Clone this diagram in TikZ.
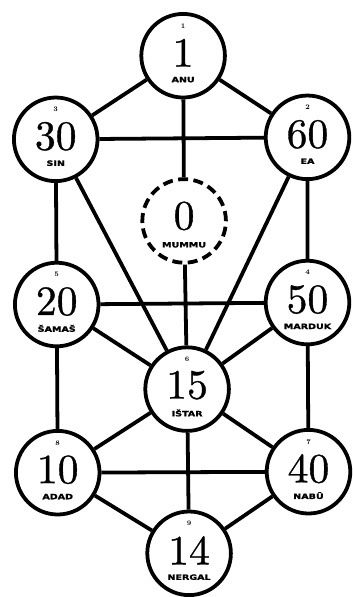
\documentclass[tikz,border=0pt]{standalone}
\usepackage{fontspec}
\usepackage{tikz}
\usetikzlibrary{calc}
\newfontfamily\tagfont[FakeStretch=1.3, FakeBold=1.5]{DejaVu Sans}
\newfontfamily\numfont{lmroman10-regular}[Extension=.otf, FakeBold=0.8]

\tikzset{
  god/.style={circle, draw=black, fill=white, line width=3.8bp, minimum size=84bp, inner sep=0pt},
  ghost/.style={god, dash pattern=on 10bp off 5.5bp},
  link/.style={line width=3.8bp},
  godnum/.style={font=\numfont\fontsize{42}{42}\selectfont, inner sep=0pt},
  godrank/.style={font=\bfseries\fontsize{7}{7}\selectfont, inner sep=0pt},
  godtag/.style={font=\tagfont\bfseries\fontsize{7.4}{7.4}\selectfont, inner sep=0pt},
}

\begin{document}
\begin{tikzpicture}[x=1bp, y=-1bp]

%% Background
\fill[white] (0,0) rectangle (350,597);

%% ── Circles ─────────────────────────────────────────────────────────────
\node[god]   (anu)    at (184,56)  {};
\node[god]   (sin)    at (56,140)  {};
\node[god]   (ea)     at (309,138) {};
\node[ghost] (mummu)  at (185,222) {};
\node[god]   (samas)  at (57,306)  {};
\node[god]   (marduk) at (309,304) {};
\node[god]   (istar)  at (188,391) {};
\node[god]   (adad)   at (58,475)  {};
\node[god]   (nabu)   at (310,474) {};
\node[god]   (nergal) at (190,556) {};

%% ── Links ───────────────────────────────────────────────────────────────
\draw[link] (anu) -- (sin)  (anu) -- (ea)  (anu) -- (mummu)  (sin) -- (ea);
\draw[link] (sin) -- (samas)  (sin) -- (istar)  (ea) -- (marduk)  (ea) -- (istar);
\draw[link] (mummu) -- (istar)  (samas) -- (marduk)  (samas) -- (istar)  (marduk) -- (istar);
\draw[link] (samas) -- (adad)  (marduk) -- (nabu)  (istar) -- (adad)  (istar) -- (nabu);
\draw[link] (istar) -- (nergal)  (adad) -- (nabu)  (adad) -- (nergal)  (nabu) -- (nergal);

%% ── ANU ─────────────────────────────────────────────────────────────────
\node[godrank] (anu-r) at ($(anu)+(0,-30)$) {1};
\node[godnum]  (anu-n) at ($(anu)+(0,-3)$)  {1};
\node[godtag]  (anu-t) at ($(anu)+(0,24)$)  {ANU};

%% ── SIN ─────────────────────────────────────────────────────────────────
\node[godrank] (sin-r) at ($(sin)+(0,-30)$) {3};
\node[godnum]  (sin-n) at ($(sin)+(0,-3)$)  {30};
\node[godtag]  (sin-t) at ($(sin)+(0,24)$)  {SIN};

%% ── EA ──────────────────────────────────────────────────────────────────
\node[godrank] (ea-r) at ($(ea)+(0,-30)$) {2};
\node[godnum]  (ea-n) at ($(ea)+(0,-3)$)  {60};
\node[godtag]  (ea-t) at ($(ea)+(0,24)$)  {EA};

%% ── MUMMU ───────────────────────────────────────────────────────────────
\node[godnum]  (mummu-n) at ($(mummu)+(0,-5)$) {0};
\node[godtag]  (mummu-t) at ($(mummu)+(0,24)$) {MUMMU};

%% ── ŠAMAŠ ───────────────────────────────────────────────────────────────
\node[godrank] (samas-r) at ($(samas)+(0,-30)$) {5};
\node[godnum]  (samas-n) at ($(samas)+(0,-3)$)  {20};
\node[godtag]  (samas-t) at ($(samas)+(0,24)$)  {ŠAMAŠ};

%% ── MARDUK ──────────────────────────────────────────────────────────────
\node[godrank] (marduk-r) at ($(marduk)+(0,-30)$) {4};
\node[godnum]  (marduk-n) at ($(marduk)+(0,-3)$)  {50};
\node[godtag]  (marduk-t) at ($(marduk)+(0,24)$)  {MARDUK};

%% ── IŠTAR ───────────────────────────────────────────────────────────────
\node[godrank] (istar-r) at ($(istar)+(0,-30)$) {6};
\node[godnum]  (istar-n) at ($(istar)+(0,-4)$)  {15};
\node[godtag]  (istar-t) at ($(istar)+(0,24)$)  {IŠTAR};

%% ── ADAD ────────────────────────────────────────────────────────────────
\node[godrank] (adad-r) at ($(adad)+(0,-30)$) {8};
\node[godnum]  (adad-n) at ($(adad)+(0,-3)$)  {10};
\node[godtag]  (adad-t) at ($(adad)+(0,24)$)  {ADAD};

%% ── NABÛ ────────────────────────────────────────────────────────────────
\node[godrank] (nabu-r) at ($(nabu)+(0,-30)$) {7};
\node[godnum]  (nabu-n) at ($(nabu)+(0,-3)$)  {40};
\node[godtag]  (nabu-t) at ($(nabu)+(0,24)$)  {NABÛ};

%% ── NERGAL ──────────────────────────────────────────────────────────────
\node[godrank] (nergal-r) at ($(nergal)+(0,-30)$) {9};
\node[godnum]  (nergal-n) at ($(nergal)+(0,-3)$)  {14};
\node[godtag]  (nergal-t) at ($(nergal)+(0,24)$)  {NERGAL};

\end{tikzpicture}
\end{document}
